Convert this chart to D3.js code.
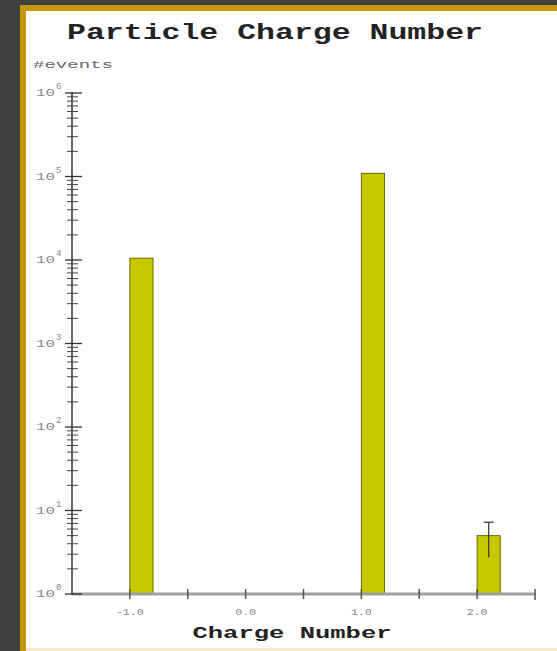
<!DOCTYPE html>
<html>
<head>
<meta charset="utf-8">
<script src="https://cdn.jsdelivr.net/npm/d3@7"></script>
<style>
body{margin:0;background:#404040;}
svg{display:block;}
</style>
</head>
<body>
<svg id="myGraph" width="557" height="651"></svg>
<script>
// charge bins (left edge) and counts
var charges=[-1.0,1.0,2.0];
var counts=[10500,109000,5];
var errors=[null,null,2.24];
var binWidth=0.2;

var xTickValues=[-1.0,-0.5,0.0,0.5,1.0,1.5,2.0,2.5];
var xTickLabels=["-1.0","0.0","1.0","2.0"];
var yDecades=[0,1,2,3,4,5,6];

var svg=d3.select("#myGraph");

// frame
svg.append("rect").attr("x",20).attr("y",5).attr("width",537).attr("height",646).attr("fill","#c8960a");
svg.append("rect").attr("x",26).attr("y",11).attr("width",531).attr("height",640).attr("fill","#f6e8cc");
svg.append("rect").attr("x",26).attr("y",11).attr("width",531).attr("height",637).attr("fill","#ffffff");

var x=d3.scaleLinear().domain([-1.5,2.5]).range([72,535]);
var y=d3.scaleLog().domain([1,1e6]).range([594,93]);

svg.append("text")
	.attr("x",275).attr("y",39)
	.attr("text-anchor","middle")
	.attr("textLength",416).attr("lengthAdjust","spacingAndGlyphs")
	.style("font-family","'Liberation Mono',monospace")
	.style("font-weight","bold").style("font-size","22px")
	.attr("fill","#222")
	.text("Particle Charge Number");

svg.append("text")
	.attr("x",33).attr("y",68)
	.attr("textLength",80).attr("lengthAdjust","spacingAndGlyphs")
	.style("font-family","'Liberation Mono',monospace")
	.style("font-size","10px")
	.attr("fill","#666")
	.text("#events");

// bars
svg.selectAll("rect.bar")
	.data(charges)
	.enter()
	.append("rect")
	.attr("class","bar")
	.attr("x",function(d){return x(d);})
	.attr("width",function(d){return x(d+binWidth)-x(d);})
	.attr("y",function(d,i){return y(counts[i]);})
	.attr("height",function(d,i){return y(1)-y(counts[i]);})
	.attr("fill","#c8c800")
	.attr("stroke","#6e6e00")
	.attr("stroke-width",1);

// error bars
charges.forEach(function(d,i){
	if(errors[i]==null) return;
	var cx=x(d+binWidth/2);
	svg.append("line")
		.attr("x1",cx).attr("x2",cx)
		.attr("y1",y(counts[i]+errors[i])).attr("y2",y(counts[i]-errors[i]))
		.attr("stroke","#333").attr("stroke-width",1.2);
	svg.append("line")
		.attr("x1",cx-5).attr("x2",cx+5)
		.attr("y1",y(counts[i]+errors[i])).attr("y2",y(counts[i]+errors[i]))
		.attr("stroke","#333").attr("stroke-width",1.2);
});

// x axis
svg.append("line")
	.attr("x1",x(-1.5)).attr("x2",x(2.5)+1)
	.attr("y1",y(1)).attr("y2",y(1))
	.attr("stroke","#a0a0a0").attr("stroke-width",3);
svg.selectAll("line.xtick")
	.data(xTickValues)
	.enter()
	.append("line")
	.attr("class","xtick")
	.attr("x1",function(d){return x(d);}).attr("x2",function(d){return x(d);})
	.attr("y1",589).attr("y2",function(d){return d==2.5?600:599;})
	.attr("stroke","#555").attr("stroke-width",1.5);
svg.selectAll("text.xlab")
	.data(xTickLabels)
	.enter()
	.append("text")
	.attr("class","xlab")
	.attr("x",function(d){return x(+d);})
	.attr("y",615)
	.attr("text-anchor","middle")
	.attr("textLength",function(d){return d.length*7;}).attr("lengthAdjust","spacingAndGlyphs")
	.style("font-family","'Liberation Mono',monospace")
	.style("font-size","9px")
	.attr("fill","#888")
	.text(function(d){return d;});

svg.append("text")
	.attr("x",292).attr("y",638)
	.attr("text-anchor","middle")
	.attr("textLength",199).attr("lengthAdjust","spacingAndGlyphs")
	.style("font-family","'Liberation Mono',monospace")
	.style("font-weight","bold").style("font-size","17px")
	.attr("fill","#222")
	.text("Charge Number");

// y axis
svg.append("line")
	.attr("x1",72).attr("x2",72)
	.attr("y1",y(1e6)-1).attr("y2",y(1)+1)
	.attr("stroke","#333").attr("stroke-width",1.5);

var minor=[];
yDecades.slice(0,-1).forEach(function(k){
	for(var m=2;m<10;m++) minor.push(m*Math.pow(10,k));
});
svg.selectAll("line.ymin")
	.data(minor)
	.enter()
	.append("line")
	.attr("class","ymin")
	.attr("x1",67).attr("x2",78)
	.attr("y1",function(d){return y(d);}).attr("y2",function(d){return y(d);})
	.attr("stroke","#444").attr("stroke-width",1);
svg.selectAll("line.ymaj")
	.data(yDecades)
	.enter()
	.append("line")
	.attr("class","ymaj")
	.attr("x1",65).attr("x2",82)
	.attr("y1",function(d){return y(Math.pow(10,d));}).attr("y2",function(d){return y(Math.pow(10,d));})
	.attr("stroke","#333").attr("stroke-width",1.3);

var ylab=svg.selectAll("g.ylab")
	.data(yDecades)
	.enter()
	.append("g")
	.attr("class","ylab")
	.attr("transform",function(d){return "translate(0,"+y(Math.pow(10,d))+")";});
ylab.append("text")
	.attr("x",36).attr("y",3)
	.attr("textLength",19).attr("lengthAdjust","spacingAndGlyphs")
	.style("font-family","'Liberation Mono',monospace")
	.style("font-size","10px")
	.attr("fill","#888")
	.text("10");
ylab.append("text")
	.attr("x",56).attr("y",-4)
	.style("font-family","'Liberation Mono',monospace")
	.style("font-size","9px")
	.attr("fill","#888")
	.text(function(d){return d;});
</script>
</body>
</html>
